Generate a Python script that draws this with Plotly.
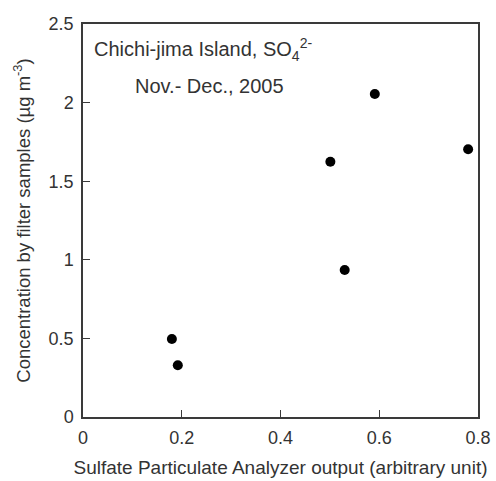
import plotly.graph_objects as go

x_vals = [0.180, 0.192, 0.501, 0.530, 0.591, 0.780]
y_vals = [0.496, 0.329, 1.624, 0.935, 2.055, 1.703]

x_ticks = [0, 0.2, 0.4, 0.6, 0.8]
x_ticklabels = ["0", "0.2", "0.4", "0.6", "0.8"]
y_ticks = [0, 0.5, 1, 1.5, 2, 2.5]
y_ticklabels = ["0", "0.5", "1", "1.5", "2", "2.5"]

font_family = "Liberation Sans, Arial, sans-serif"
txt_color = "#333333"
line_color = "#3a3a3a"

fig = go.Figure()
fig.add_trace(go.Scatter(
    x=x_vals, y=y_vals, mode="markers",
    marker=dict(color="black", size=10, line=dict(width=0)),
    showlegend=False,
))

fig.update_layout(
    width=496, height=481,
    margin=dict(l=83, r=18, t=24, b=64),
    plot_bgcolor="white", paper_bgcolor="white",
    font=dict(family=font_family, size=18, color=txt_color),
    xaxis=dict(
        range=[0, 0.8], tickvals=x_ticks, ticktext=x_ticklabels,
        showgrid=False, zeroline=False, automargin=False,
        showline=True, linecolor=line_color, linewidth=1.5, mirror=True,
        ticks="inside", ticklen=7, tickcolor=line_color, tickwidth=1,
        tickfont=dict(size=18, color=txt_color), ticklabelstandoff=4,
        title=dict(text="Sulfate Particulate Analyzer output (arbitrary unit)",
                   font=dict(size=19, color=txt_color), standoff=13),
    ),
    yaxis=dict(
        range=[0, 2.5], tickvals=y_ticks, ticktext=y_ticklabels,
        showgrid=False, zeroline=False, automargin=False,
        showline=True, linecolor=line_color, linewidth=1.5, mirror=True,
        ticks="inside", ticklen=7, tickcolor=line_color, tickwidth=1,
        tickfont=dict(size=18, color=txt_color), ticklabelstandoff=4,
        title=dict(text="Concentration by filter samples (µg m<sup>-3</sup>)",
                   font=dict(size=18.5, color=txt_color), standoff=13),
    ),
)

fig.add_annotation(
    xref="paper", yref="paper", x=0.023, y=0.936, xanchor="left", yanchor="middle",
    text="Chichi-jima Island, SO<sub>4</sub><sup>2-</sup>", showarrow=False,
    font=dict(size=20, color=txt_color),
)
fig.add_annotation(
    xref="paper", yref="paper", x=0.127, y=0.842, xanchor="left", yanchor="middle",
    text="Nov.- Dec., 2005", showarrow=False,
    font=dict(size=20, color=txt_color),
)

fig.write_html("out.html")
